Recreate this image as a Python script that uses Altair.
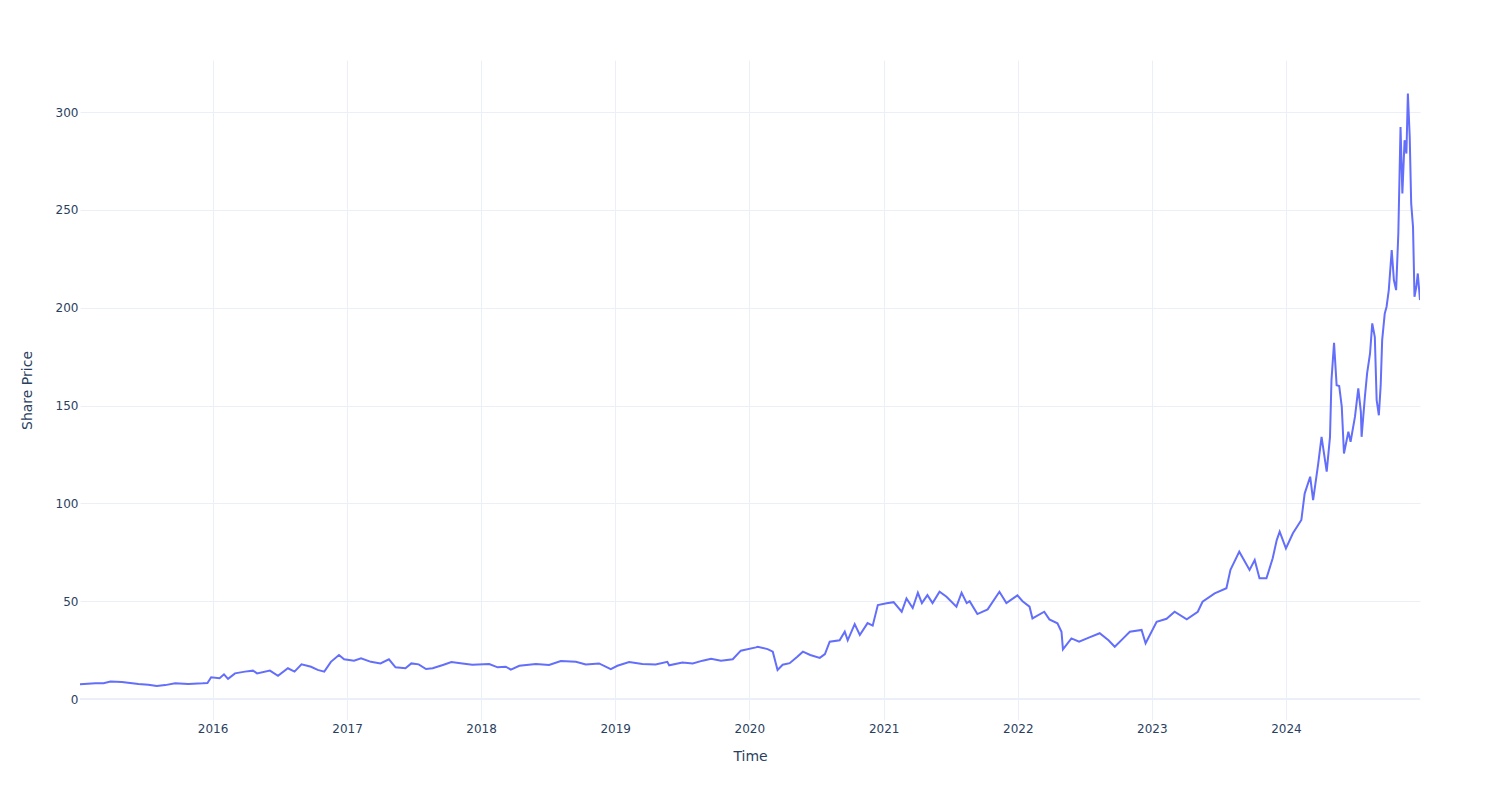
import altair as alt
import pandas as pd

# ---- data ----
dates = [
    "2015-01-05", "2015-02-16", "2015-03-10", "2015-03-29", "2015-04-29", "2015-06-13",
    "2015-07-10", "2015-08-02", "2015-08-25", "2015-09-21", "2015-10-27", "2015-12-05",
    "2015-12-18", "2015-12-28", "2016-01-20", "2016-02-01", "2016-02-12", "2016-03-02",
    "2016-03-29", "2016-04-20", "2016-05-01", "2016-06-05", "2016-06-27", "2016-07-24",
    "2016-08-11", "2016-08-30", "2016-09-25", "2016-10-13", "2016-10-31", "2016-11-18",
    "2016-12-10", "2016-12-24", "2017-01-20", "2017-02-08", "2017-03-07", "2017-04-02",
    "2017-04-25", "2017-05-13", "2017-06-09", "2017-06-25", "2017-07-15", "2017-08-04",
    "2017-08-22", "2017-09-19", "2017-10-12", "2017-11-11", "2017-12-08", "2018-01-23",
    "2018-02-15", "2018-03-09", "2018-03-23", "2018-04-15", "2018-05-30", "2018-07-05",
    "2018-08-06", "2018-09-16", "2018-10-13", "2018-11-18", "2018-12-20", "2019-01-07",
    "2019-02-08", "2019-03-16", "2019-04-21", "2019-05-23", "2019-05-28", "2019-07-03",
    "2019-07-31", "2019-08-27", "2019-09-19", "2019-10-16", "2019-11-17", "2019-12-09",
    "2020-01-19", "2020-01-24", "2020-02-20", "2020-03-05", "2020-03-18", "2020-04-01",
    "2020-04-20", "2020-05-10", "2020-05-26", "2020-06-15", "2020-07-11", "2020-07-25",
    "2020-08-07", "2020-09-03", "2020-09-17", "2020-09-25", "2020-10-14", "2020-10-28",
    "2020-11-18", "2020-12-02", "2020-12-16", "2021-01-09", "2021-01-28", "2021-02-19",
    "2021-03-04", "2021-03-21", "2021-04-04", "2021-04-15", "2021-04-30", "2021-05-14",
    "2021-06-02", "2021-06-21", "2021-07-18", "2021-08-01", "2021-08-15", "2021-08-23",
    "2021-09-13", "2021-10-11", "2021-11-12", "2021-12-01", "2021-12-31", "2022-01-14",
    "2022-02-02", "2022-02-10", "2022-03-14", "2022-03-28", "2022-04-19", "2022-04-30",
    "2022-05-04", "2022-05-27", "2022-06-17", "2022-07-15", "2022-08-12", "2022-09-05",
    "2022-09-22", "2022-10-15", "2022-11-02", "2022-12-04", "2022-12-15", "2023-01-14",
    "2023-02-10", "2023-03-04", "2023-04-06", "2023-05-06", "2023-05-19", "2023-06-21",
    "2023-07-23", "2023-08-03", "2023-08-27", "2023-09-24", "2023-10-08", "2023-10-21",
    "2023-11-09", "2023-11-26", "2023-12-07", "2023-12-15", "2024-01-01", "2024-01-20",
    "2024-02-12", "2024-02-21", "2024-03-07", "2024-03-15", "2024-03-29", "2024-04-07",
    "2024-04-21", "2024-04-30", "2024-05-04", "2024-05-11", "2024-05-18", "2024-05-25",
    "2024-06-01", "2024-06-07", "2024-06-19", "2024-06-25", "2024-07-07", "2024-07-16",
    "2024-07-23", "2024-07-25", "2024-08-03", "2024-08-09", "2024-08-17", "2024-08-23",
    "2024-08-30", "2024-09-04", "2024-09-10", "2024-09-15", "2024-09-19", "2024-09-26",
    "2024-10-01", "2024-10-07", "2024-10-15", "2024-10-21", "2024-10-27", "2024-11-02",
    "2024-11-08", "2024-11-13", "2024-11-19", "2024-11-24", "2024-11-28", "2024-12-03",
    "2024-12-07", "2024-12-12", "2024-12-16", "2024-12-21", "2024-12-25", "2024-12-31",
]

prices = [
    7.6, 8.0, 8.1, 8.9, 8.7, 7.7,
    7.3, 6.6, 7.1, 8.0, 7.7, 8.0,
    8.2, 11.1, 10.6, 12.6, 10.3, 13.1,
    14.0, 14.5, 13.1, 14.5, 11.9, 15.7,
    14.0, 17.7, 16.5, 14.9, 14.0, 19.0,
    22.5, 20.3, 19.6, 20.8, 19.0, 18.2,
    20.3, 16.2, 15.7, 18.2, 17.7, 15.3,
    15.7, 17.4, 18.9, 18.2, 17.5, 17.9,
    16.2, 16.5, 15.0, 17.0, 17.9, 17.4,
    19.4, 19.0, 17.7, 18.2, 15.3, 17.0,
    18.9, 17.9, 17.7, 19.0, 17.2, 18.6,
    18.2, 19.6, 20.6, 19.6, 20.3, 24.7,
    26.4, 26.7, 25.5, 24.2, 14.8, 17.5,
    18.3, 21.5, 24.2, 22.5, 21.0, 23.0,
    29.3, 30.0, 34.4, 30.0, 38.3, 32.7,
    38.8, 37.5, 48.0, 48.9, 49.5, 44.6,
    51.4, 46.5, 54.3, 49.0, 53.1, 49.0,
    54.8, 52.3, 47.2, 54.3, 49.0, 50.0,
    43.4, 45.8, 54.8, 49.0, 53.0, 50.0,
    47.2, 41.2, 44.6, 40.7, 38.7, 34.4,
    25.4, 31.0, 29.3, 31.5, 33.6, 30.0,
    26.7, 31.0, 34.4, 35.3, 28.5, 39.5,
    41.0, 44.6, 40.7, 44.6, 49.7, 54.0,
    56.6, 66.0, 75.3, 66.0, 71.0, 61.7,
    61.7, 71.9, 81.2, 85.5, 77.0, 84.7,
    91.5, 105.0, 113.6, 101.7, 120.4, 134.0,
    116.2, 134.0, 163.0, 182.0, 160.4, 160.0,
    149.4, 125.5, 136.6, 131.5, 144.3, 158.8,
    146.8, 134.0, 154.5, 166.4, 176.6, 192.0,
    185.0, 152.8, 145.0, 160.4, 183.4, 197.0,
    200.5, 209.0, 229.4, 214.0, 209.0, 238.0,
    292.4, 258.4, 285.6, 278.8, 309.5, 287.3,
    253.3, 241.3, 205.6, 210.7, 217.5, 203.9,
]

year_ticks = [2016, 2017, 2018, 2019, 2020, 2021, 2022, 2023, 2024]
price_ticks = [0, 50, 100, 150, 200, 250, 300]
y_range = [-10.73, 326.6]

df = pd.DataFrame({"Time": dates, "Share Price": prices})

FONT = "DejaVu Sans"
TXT = "#2a3f5f"
GRID = "#EBF0F8"
LINE = "#636efa"

W, H = 1340, 660

x_enc = alt.X(
    "Time:T",
    title="Time",
    scale=alt.Scale(
        domain=[alt.DateTime(year=2015, month=1, date=5),
                alt.DateTime(year=2024, month=12, date=31)],
        nice=False,
    ),
    axis=alt.Axis(
        values=[alt.DateTime(year=y, month=1, date=1) for y in year_ticks],
        format="%Y",
        labelPadding=3,
        titleX=W / 2,
        titleY=36,
        titleAlign="center",
        titleBaseline="middle",
    ),
)

y_enc = alt.Y(
    "Share Price:Q",
    title="Share Price",
    scale=alt.Scale(domain=y_range, nice=False, zero=False),
    axis=alt.Axis(
        values=price_ticks,
        labelPadding=2,
        titleX=-53,
        titleY=H / 2,
        titleAngle=-90,
        titleAlign="center",
        titleBaseline="middle",
    ),
)

zero_line = alt.Chart(df).mark_rule(color=GRID, strokeWidth=2).encode(
    y=alt.datum(0, type="quantitative", scale=alt.Scale(domain=y_range, nice=False, zero=False))
)

line = alt.Chart(df).mark_line(color=LINE, strokeWidth=2, clip=True).encode(
    x=x_enc, y=y_enc
)

chart = (
    alt.layer(line, zero_line)
    .properties(
        width=W,
        height=H,
        autosize=alt.AutoSizeParams(type="none"),
        padding={"left": 80, "top": 60, "right": 80, "bottom": 80},
        background="white",
    )
    .configure_view(stroke=None)
    .configure_axis(
        domain=False,
        ticks=False,
        grid=True,
        gridColor=GRID,
        gridWidth=1,
        labelFont=FONT,
        labelFontSize=12,
        labelColor=TXT,
        titleFont=FONT,
        titleFontSize=14,
        titleFontWeight="normal",
        titleColor=TXT,
    )
)

chart.save("out.html", embed_options={"renderer": "svg", "actions": False})
